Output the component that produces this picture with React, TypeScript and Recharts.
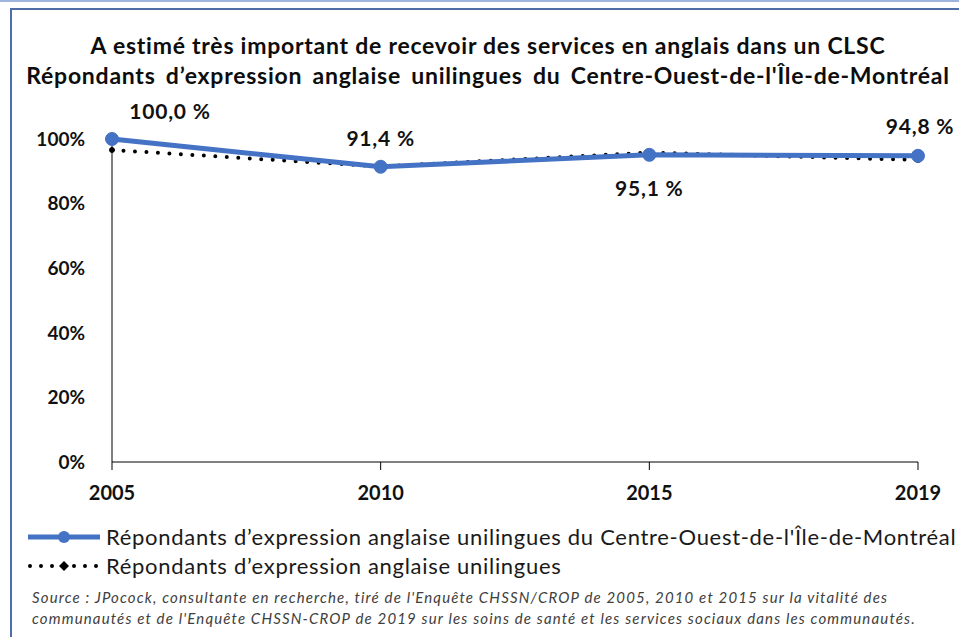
import React from 'react';
import {
  LineChart,
  Line,
  XAxis,
  YAxis,
  Legend,
  LabelList,
} from 'recharts';

const years = ['2005', '2010', '2015', '2019'];
const centreOuest = [1.0, 0.914, 0.951, 0.948];
const unilingues = [0.966, 0.915, 0.958, 0.935];
const yTicks = [0, 0.2, 0.4, 0.6, 0.8, 1];

const seriesNames = [
  "Répondants d’expression anglaise unilingues du Centre-Ouest-de-l'Île-de-Montréal",
  'Répondants d’expression anglaise unilingues',
];

// where each value label sits relative to its point
const labelOffsets = [
  { dx: 58, dy: -29 },
  { dx: 0, dy: -29 },
  { dx: 0, dy: 33 },
  { dx: 2, dy: -30 },
];

const data = years.map((year, i) => ({
  year,
  centreOuest: centreOuest[i],
  unilingues: unilingues[i],
}));

const FONT = 'Lato, "Open Sans", sans-serif';
const BLUE = '#4472C4';

const fmtLabel = (v: number) => `${(v * 100).toFixed(1).replace('.', ',')} %`;

const ValueLabel = (props: any) => {
  const { x, y, value, index } = props;
  const off = labelOffsets[index] || { dx: 0, dy: -25 };
  return (
    <text
      x={x + off.dx}
      y={y + off.dy}
      textAnchor="middle"
      dominantBaseline="central"
      fontFamily={FONT}
      fontWeight="bold"
      fontSize={21}
      letterSpacing={0.8}
      fill="#111"
    >
      {fmtLabel(value)}
    </text>
  );
};

const LegendContent = () => (
  <div style={{ fontFamily: FONT, fontSize: 22, letterSpacing: 0.7, color: '#1a1a1a' }}>
    <div style={{ display: 'flex', alignItems: 'center', height: 29 }}>
      <svg width={80} height={20}>
        <line x1={2} y1={10} x2={74} y2={10} stroke={BLUE} strokeWidth={5} />
        <circle cx={38} cy={10} r={6} fill={BLUE} />
      </svg>
      <span style={{ whiteSpace: 'nowrap' }}>{seriesNames[0]}</span>
    </div>
    <div style={{ display: 'flex', alignItems: 'center', height: 29 }}>
      <svg width={80} height={20}>
        <line
          x1={4}
          y1={10}
          x2={74}
          y2={10}
          stroke="#000"
          strokeWidth={4}
          strokeDasharray="0 11"
          strokeLinecap="round"
        />
        <polygon points="38,5 43,10 38,15 33,10" fill="#000" />
      </svg>
      <span style={{ whiteSpace: 'nowrap' }}>{seriesNames[1]}</span>
    </div>
  </div>
);

export default function App() {
  return (
    <div
      style={{
        position: 'absolute',
        left: 0,
        top: 0,
        width: 959,
        height: 637,
        overflow: 'hidden',
        background: '#fff',
        fontFamily: FONT,
      }}
    >
      <div
        style={{
          position: 'absolute',
          left: 0,
          top: 0,
          width: 959,
          height: 2,
          background: '#9fb4dc',
        }}
      />
      <div
        style={{
          position: 'absolute',
          left: 10,
          top: 8,
          width: 980,
          height: 660,
          borderLeft: '2px solid #4e6ea8',
          borderTop: '2px solid #4e6ea8',
        }}
      />
      <div
        style={{
          position: 'absolute',
          left: 0,
          top: 30,
          width: 976,
          textAlign: 'center',
          fontWeight: 'bold',
          fontSize: 23,
          letterSpacing: 0.75,
          lineHeight: '30px',
          color: '#0d0d0d',
          whiteSpace: 'nowrap',
        }}
      >
        <div>A estimé très important de recevoir des services en anglais dans un CLSC</div>
        <div style={{ wordSpacing: 4 }}>
          Répondants d’expression anglaise unilingues du Centre-Ouest-de-l'Île-de-Montréal
        </div>
      </div>

      <div style={{ position: 'absolute', left: 0, top: 0 }}>
        <LineChart
          width={959}
          height={637}
          data={data}
          margin={{ top: 139, right: 41, left: 12, bottom: 135 }}
        >
          <XAxis
            dataKey="year"
            padding={{ left: 0, right: 0 }}
            stroke="#000"
            tickSize={8}
            tickMargin={16}
            tick={{ fill: '#111', fontSize: 20, fontWeight: 'bold', fontFamily: FONT }}
            height={40}
          />
          <YAxis
            domain={[0, 1]}
            ticks={yTicks}
            tickFormatter={(v) => `${Math.round(v * 100)}%`}
            stroke="#000"
            tickLine={false}
            tickSize={0}
            tickMargin={27}
            width={100}
            tick={{ fill: '#111', fontSize: 19, fontWeight: 'bold', fontFamily: FONT }}
          />
          <Legend
            layout="vertical"
            align="center"
            verticalAlign="middle"
            wrapperStyle={{ top: 522, left: 26, width: 940 }}
            content={<LegendContent />}
          />
          <Line
            dataKey="unilingues"
            name={seriesNames[1]}
            stroke="#000"
            strokeWidth={4}
            strokeDasharray="0 11.5"
            strokeLinecap="round"
            dot={{ r: 2.5, fill: '#000', stroke: '#000', strokeWidth: 1, strokeDasharray: '' }}
            isAnimationActive={false}
          />
          <Line
            dataKey="centreOuest"
            name={seriesNames[0]}
            stroke={BLUE}
            strokeWidth={5}
            dot={{ r: 6.5, fill: BLUE, stroke: BLUE, strokeWidth: 1 }}
            isAnimationActive={false}
          >
            <LabelList dataKey="centreOuest" content={<ValueLabel />} />
          </Line>
        </LineChart>
      </div>

      <div
        style={{
          position: 'absolute',
          left: 32,
          top: 587,
          fontStyle: 'italic',
          fontSize: 15,
          letterSpacing: 1.15,
          lineHeight: '21px',
          color: '#404040',
          whiteSpace: 'nowrap',
        }}
      >
        <div>
          Source : JPocock, consultante en recherche, tiré de l'Enquête CHSSN/CROP de 2005, 2010 et 2015 sur la vitalité des
        </div>
        <div>
          communautés et de l'Enquête CHSSN-CROP de 2019 sur les soins de santé et les services sociaux dans les communautés.
        </div>
      </div>
    </div>
  );
}
